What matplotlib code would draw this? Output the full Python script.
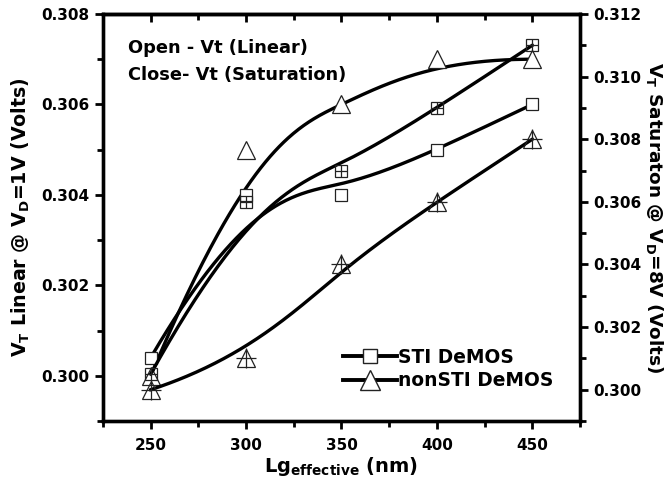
import numpy as np
import matplotlib
matplotlib.use('Agg')
import matplotlib.pyplot as plt
from matplotlib.lines import Line2D
from matplotlib.ticker import MultipleLocator, FormatStrFormatter

plt.rcParams['font.family'] = 'DejaVu Sans'
plt.rcParams['font.weight'] = 'bold'
plt.rcParams['mathtext.fontset'] = 'custom'
plt.rcParams['mathtext.rm'] = 'DejaVu Sans:bold'
plt.rcParams['mathtext.bf'] = 'DejaVu Sans:bold'
plt.rcParams['mathtext.default'] = 'rm'

# gate length (nm)
lg = [250, 300, 350, 400, 450]

# Vt linear (left axis) - open symbols
sti_lin = [0.3004, 0.3040, 0.3040, 0.3050, 0.3060]
nonsti_lin = [0.3000, 0.3050, 0.3060, 0.3070, 0.3070]

# Vt saturation (right axis) - crossed symbols
sti_sat = [0.3005, 0.3060, 0.3070, 0.3090, 0.3110]
nonsti_sat = [0.3000, 0.3010, 0.3040, 0.3060, 0.3080]


# clamped cubic B-spline with the data as control points (like Origin's B-spline line)
def bspline(xs, ys, n=300, k=3):
    P = np.column_stack([xs, ys]).astype(float)
    m = len(P)
    t = np.concatenate([np.zeros(k), np.linspace(0, 1, m - k + 1), np.ones(k)])
    u = np.linspace(0, 1 - 1e-9, n)

    def N(i, p):
        if p == 0:
            return ((t[i] <= u) & (u < t[i + 1])).astype(float)
        a = 0.0 if t[i + p] == t[i] else (u - t[i]) / (t[i + p] - t[i]) * N(i, p - 1)
        b = 0.0 if t[i + p + 1] == t[i + 1] else (t[i + p + 1] - u) / (t[i + p + 1] - t[i + 1]) * N(i + 1, p - 1)
        return a + b

    B = np.column_stack([N(i, k) for i in range(m)])
    C = np.vstack([B @ P, P[-1]])
    return C[:, 0], C[:, 1]


fig = plt.figure(figsize=(6.7, 4.86), dpi=100)
ax = fig.add_axes([0.1537, 0.1337, 0.712, 0.8375])
ax2 = ax.twinx()

lw = 2.4
mk = '#222222'

# linear (left axis), open symbols
for ys, m, ms in [(sti_lin, 's', 9), (nonsti_lin, '^', 12.5)]:
    cx, cy = bspline(lg, ys)
    ax.plot(cx, cy, color='black', lw=lw, zorder=2)
    ax.plot(lg, ys, linestyle='none', marker=m, ms=ms, mfc='white', mec=mk, mew=0.9, zorder=3)

# saturation (right axis), crossed symbols
for ys, m, ms, pms in [(sti_sat, 's', 9, 9), (nonsti_sat, '^', 12.5, 14)]:
    cx, cy = bspline(lg, ys)
    ax2.plot(cx, cy, color='black', lw=lw, zorder=2)
    ax2.plot(lg, ys, linestyle='none', marker=m, ms=ms, mfc='none', mec=mk, mew=0.9, zorder=3)
    ax2.plot(lg, ys, linestyle='none', marker='+', ms=pms, mec=mk, mew=0.9, zorder=3)

ax.set_xlim(225, 475)
ax.set_ylim(0.299, 0.308)
ax2.set_ylim(0.299, 0.312)

ax.xaxis.set_major_locator(MultipleLocator(50))
ax.xaxis.set_minor_locator(MultipleLocator(25))
for a in (ax, ax2):
    a.yaxis.set_major_locator(MultipleLocator(0.002))
    a.yaxis.set_minor_locator(MultipleLocator(0.001))
    a.yaxis.set_major_formatter(FormatStrFormatter('%.3f'))
    for s in a.spines.values():
        s.set_linewidth(2.4)
    a.tick_params(which='both', direction='out', width=2, labelsize=11)
    a.tick_params(which='major', length=6)
    a.tick_params(which='minor', length=4)
ax.tick_params(axis='x', which='major', pad=6)

# top axis: inward ticks, no labels
sec = ax.secondary_xaxis('top')
sec.xaxis.set_major_locator(MultipleLocator(50))
sec.xaxis.set_minor_locator(MultipleLocator(25))
sec.tick_params(which='both', direction='in', width=2, labeltop=False)
sec.tick_params(which='major', length=6)
sec.tick_params(which='minor', length=4)
sec.spines['top'].set_linewidth(2.4)

ax.set_xlabel('Lg$_{effective}$ (nm)', fontsize=14, fontweight='bold', labelpad=2)
ax.set_ylabel('V$_T$ Linear @ V$_D$=1V (Volts)', fontsize=13.7, fontweight='bold', labelpad=7)
ax2.set_ylabel('V$_T$ Saturaton @ V$_D$=8V (Volts)', fontsize=13.3, fontweight='bold',
               rotation=-90, labelpad=17)

ax.text(0.052, 0.904, 'Open - Vt (Linear)', transform=ax.transAxes, fontsize=12.8,
        fontweight='bold', va='baseline')
ax.text(0.052, 0.838, 'Close- Vt (Saturation)', transform=ax.transAxes, fontsize=12.8,
        fontweight='bold', va='baseline')

handles = [
    Line2D([], [], color='black', lw=2.8, marker='s', ms=10, mfc='white', mec=mk, mew=1.0),
    Line2D([], [], color='black', lw=2.8, marker='^', ms=15, mfc='white', mec=mk, mew=1.0),
]
ax.legend(handles, ['STI DeMOS', 'nonSTI DeMOS'], loc='lower left', bbox_to_anchor=(0.468, 0.035),
          frameon=False, fontsize=13.4, handlelength=2.9, handletextpad=0.05, labelspacing=0.24)

fig.savefig('out.png', dpi=100)
